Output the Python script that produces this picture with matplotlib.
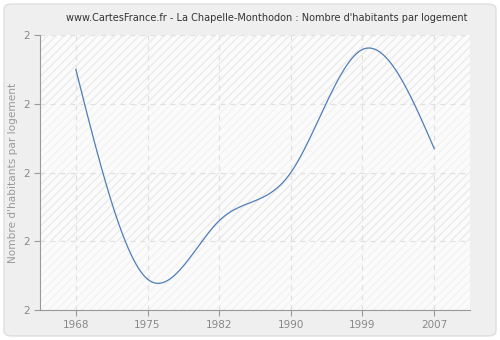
import numpy as np
import matplotlib.pyplot as plt
from matplotlib.patches import FancyBboxPatch, Rectangle

# Nombre d'habitants par logement, La Chapelle-Monthodon
years = ['1968', '1975', '1982', '1990', '1999', '2007']
values = [2.35, 2.045, 2.13, 2.2, 2.379, 2.235]
y_ticks = [2.0, 2.1, 2.2, 2.3, 2.4]
y_labels = ['2', '2', '2', '2', '2']


def natural_spline(x, y, n=300):
    # natural cubic spline through the points, evaluated on a fine grid
    x = np.asarray(x, float)
    y = np.asarray(y, float)
    k = len(x)
    h = np.diff(x)
    A = np.zeros((k, k))
    b = np.zeros(k)
    A[0, 0] = A[-1, -1] = 1
    for i in range(1, k - 1):
        A[i, i - 1] = h[i - 1]
        A[i, i] = 2 * (h[i - 1] + h[i])
        A[i, i + 1] = h[i]
        b[i] = 3 * ((y[i + 1] - y[i]) / h[i] - (y[i] - y[i - 1]) / h[i - 1])
    c = np.linalg.solve(A, b)
    xs = np.linspace(x[0], x[-1], n)
    ys = np.empty_like(xs)
    for j, xv in enumerate(xs):
        i = min(np.searchsorted(x, xv, side='right') - 1, k - 2)
        bb = (y[i + 1] - y[i]) / h[i] - h[i] * (2 * c[i] + c[i + 1]) / 3
        d = (c[i + 1] - c[i]) / (3 * h[i])
        t = xv - x[i]
        ys[j] = y[i] + bb * t + c[i] * t ** 2 + d * t ** 3
    return xs, ys


fig = plt.figure(figsize=(5, 3.4), dpi=100)
fig.patch.set_facecolor('white')
fig.patches.append(FancyBboxPatch((0.008, 0.012), 0.984, 0.976,
                                  boxstyle='round,pad=0,rounding_size=0.015',
                                  transform=fig.transFigure, facecolor='#efefef',
                                  edgecolor='#dedede', linewidth=1, zorder=-10))

ax = fig.add_axes([0.08, 0.088, 0.86, 0.809])
ax.set_facecolor('#fbfbfb')

# striped background, alternating stronger / fainter hatch per band
for i in range(len(y_ticks) - 1):
    col = '#ebebeb' if i % 2 == 1 else '#f3f3f3'
    ax.add_patch(Rectangle((-0.5, y_ticks[i]), len(years), y_ticks[i + 1] - y_ticks[i],
                           facecolor='none', edgecolor=col, hatch='////',
                           linewidth=0, zorder=0))

pos = np.arange(len(years))
xs, ys = natural_spline(pos, values)
ax.plot(xs, ys, color='#4f7db8', linewidth=0.9, zorder=3)

ax.set_xlim(-0.5, len(years) - 0.5)
ax.set_ylim(2.0, 2.4)
ax.set_xticks(pos)
ax.set_xticklabels(years)
ax.set_yticks(y_ticks)
ax.set_yticklabels(y_labels)
ax.grid(True, color='#e0e0e0', linestyle=(0, (4, 4)), linewidth=0.9, zorder=1)
ax.set_axisbelow(True)

for s in ['top', 'right']:
    ax.spines[s].set_visible(False)
for s in ['left', 'bottom']:
    ax.spines[s].set_color('#999999')
ax.tick_params(colors='#999999', labelcolor='#888888', labelsize=7.5, length=4)

ax.set_ylabel("Nombre d'habitants par logement", color='#999999', fontsize=7.6)
ax.yaxis.set_label_coords(-0.05, 0.5)
fig.text(0.533, 0.946, "www.CartesFrance.fr - La Chapelle-Monthodon : Nombre d'habitants par logement",
         ha='center', va='center', fontsize=7.0, color='#333333')

fig.savefig('out.png', dpi=100, facecolor=fig.get_facecolor())
